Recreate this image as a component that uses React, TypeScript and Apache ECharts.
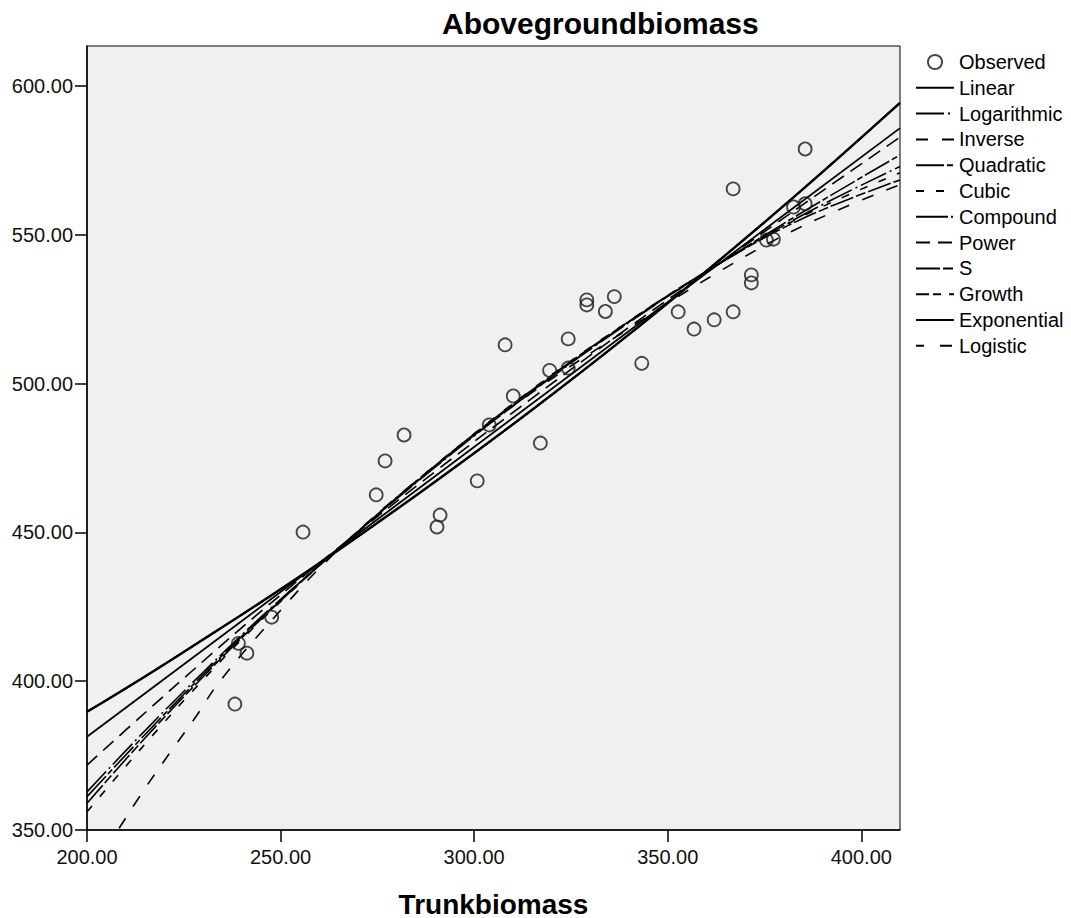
import React, { useEffect, useRef } from "react";
import * as echarts from "echarts";

// Observed points
const OBS_X = [238.2, 239.1, 241.3, 247.7, 255.8, 274.7, 277.0, 281.9, 290.4, 291.2, 300.8, 303.9, 308.0, 310.1, 317.1, 319.5, 324.3, 324.3, 329.1, 329.1, 333.9, 336.2, 343.3, 352.7, 356.8, 362.0, 366.9, 366.9, 371.6, 371.6, 375.5, 377.3, 382.5, 385.5, 385.5];
const OBS_Y = [392.3, 412.7, 409.4, 421.5, 450.1, 462.6, 474.0, 482.7, 451.8, 455.8, 467.3, 486.1, 513.0, 495.8, 480.0, 504.4, 515.0, 505.2, 528.1, 526.4, 524.2, 529.2, 506.8, 524.1, 518.3, 521.4, 524.1, 565.4, 536.5, 533.8, 548.2, 548.5, 559.3, 560.4, 578.8];

// Fitted curves
const CURVE_X = [200, 215, 230, 245, 265, 290, 315, 340, 362.5, 385, 410];
const LINEAR_X = [200, 410];
const LINEAR_Y = [381.3, 585.8];
const LOG_Y = [362.8, 383.4, 403.0, 421.6, 444.6, 472.0, 497.3, 520.5, 539.6, 556.7, 572.9];
const QUAD_Y = [361.2, 382.1, 402.2, 421.3, 444.6, 472.2, 497.5, 520.7, 539.6, 557.7, 576.8];
const CUBIC_Y = [356.1, 378.9, 400.5, 420.5, 444.6, 472.6, 498.1, 521.0, 539.6, 556.3, 570.8];
const POWER_Y = [371.8, 389.4, 406.7, 423.5, 444.9, 470.5, 495.1, 518.9, 539.6, 560.2, 582.8];
const S_Y = [359.0, 380.9, 401.5, 420.9, 444.6, 472.5, 497.9, 520.9, 539.6, 555.5, 568.4];
const EXP_Y = [389.7, 401.6, 414.0, 426.6, 444.1, 467.1, 491.2, 516.5, 540.5, 565.4, 594.3];
const INV_X = [208.3, 215, 222, 229, 233.3, 245, 265, 290, 315, 340, 362.5, 385, 410];
const INV_Y = [350.6, 364.0, 377.0, 389.7, 398.2, 416.5, 444.3, 472.5, 497.0, 518.5, 537.0, 553.0, 566.8];

const X_TICKS = [200, 250, 300, 350, 400];
const Y_TICKS = [350, 400, 450, 500, 550, 600];

const LEGEND_NAMES = ["Observed", "Linear", "Logarithmic", "Inverse", "Quadratic", "Cubic", "Compound", "Power", "S", "Growth", "Exponential", "Logistic"];

const FONT = "'Liberation Sans', Arial, sans-serif";

const zip = (xs: number[], ys: number[]) => xs.map((x, i) => [x, ys[i]]);

export default function App() {
  const ref = useRef<HTMLDivElement>(null);
  useEffect(() => {
    if (!ref.current) return;
    const chart = echarts.init(ref.current, undefined, { renderer: "svg" });
    const lineSeries = (name: string, data: number[][], type: any, width = 1.6) => ({
      name,
      type: "line",
      data,
      smooth: 0.4,
      symbol: "none",
      clip: true,
      lineStyle: { color: "#000", width, type },
      itemStyle: { color: "#000" },
      z: 3,
    });
    chart.setOption({
      animation: false,
      backgroundColor: "#fff",
      textStyle: { fontFamily: FONT },
      title: {
        text: "Abovegroundbiomass",
        left: 437,
        top: 3,
        textStyle: { fontSize: 30, fontWeight: "bold", color: "#000", fontFamily: FONT },
      },
      legend: {
        orient: "vertical",
        left: 915,
        top: 52,
        padding: 0,
        itemWidth: 38,
        itemHeight: 14,
        itemGap: 5.8,
        selectedMode: false,
        textStyle: { fontSize: 20, color: "#000", fontFamily: FONT },
        data: LEGEND_NAMES.map((n, i) =>
          i === 0
            ? { name: n }
            : { name: n, itemStyle: { opacity: 0, color: "rgba(0,0,0,0)", borderWidth: 0 } }
        ),
      },
      grid: {
        left: 87,
        right: 171,
        top: 46,
        bottom: 88,
        outerBoundsMode: "none",
        containLabel: false,
        show: true,
        backgroundColor: "#f0f0f0",
        borderColor: "#000",
        borderWidth: 1,
      },
      xAxis: {
        type: "value",
        min: 200,
        max: 410,
        interval: 50,
        name: "Trunkbiomass",
        nameLocation: "middle",
        nameGap: 60,
        nameTextStyle: { fontSize: 28, fontWeight: "bold", color: "#000", fontFamily: FONT },
        axisLine: { show: true, lineStyle: { color: "#000", width: 1.5 } },
        axisTick: { show: true, length: 12, customValues: X_TICKS, lineStyle: { color: "#000", width: 1.5 } },
        axisLabel: { fontSize: 20, color: "#111", margin: 17, customValues: X_TICKS, formatter: (v: number) => v.toFixed(2) },
        splitLine: { show: false },
      },
      yAxis: {
        type: "value",
        min: 350,
        max: 613.4,
        interval: 50,
        axisLine: { show: true, lineStyle: { color: "#000", width: 1.5 } },
        axisTick: { show: true, length: 12, customValues: Y_TICKS, lineStyle: { color: "#000", width: 1.5 } },
        axisLabel: { fontSize: 20, color: "#111", margin: 14, customValues: Y_TICKS, formatter: (v: number) => v.toFixed(2) },
        splitLine: { show: false },
      },
      series: [
        {
          name: "Observed",
          type: "scatter",
          data: zip(OBS_X, OBS_Y),
          symbol: "circle",
          symbolSize: 13,
          itemStyle: { color: "rgba(0,0,0,0)", borderColor: "#1a1a1a", borderWidth: 1.8 },
          z: 4,
        },
        lineSeries("Linear", zip(LINEAR_X, LINEAR_Y), "solid", 1.8),
        lineSeries("Logarithmic", zip(CURVE_X, LOG_Y), [28, 4, 2, 4]),
        lineSeries("Inverse", zip(INV_X, INV_Y), [12, 14]),
        lineSeries("Quadratic", zip(CURVE_X, QUAD_Y), [28, 3, 6, 3]),
        lineSeries("Cubic", zip(CURVE_X, CUBIC_Y), [8, 12]),
        lineSeries("Compound", zip(CURVE_X, EXP_Y), [32, 3, 2, 3]),
        lineSeries("Power", zip(CURVE_X, POWER_Y), [14, 8]),
        lineSeries("S", zip(CURVE_X, S_Y), [24, 3, 10, 3]),
        lineSeries("Growth", zip(CURVE_X, EXP_Y), [13, 4, 8, 8]),
        lineSeries("Exponential", zip(CURVE_X, EXP_Y), "solid", 2.4),
        lineSeries("Logistic", zip(CURVE_X, EXP_Y), [8, 16, 12, 4]),
      ],
    });
    return () => chart.dispose();
  }, []);
  return (
    <div
      ref={ref}
      style={{ position: "absolute", left: 0, top: 0, width: 1071, height: 918 }}
    />
  );
}
